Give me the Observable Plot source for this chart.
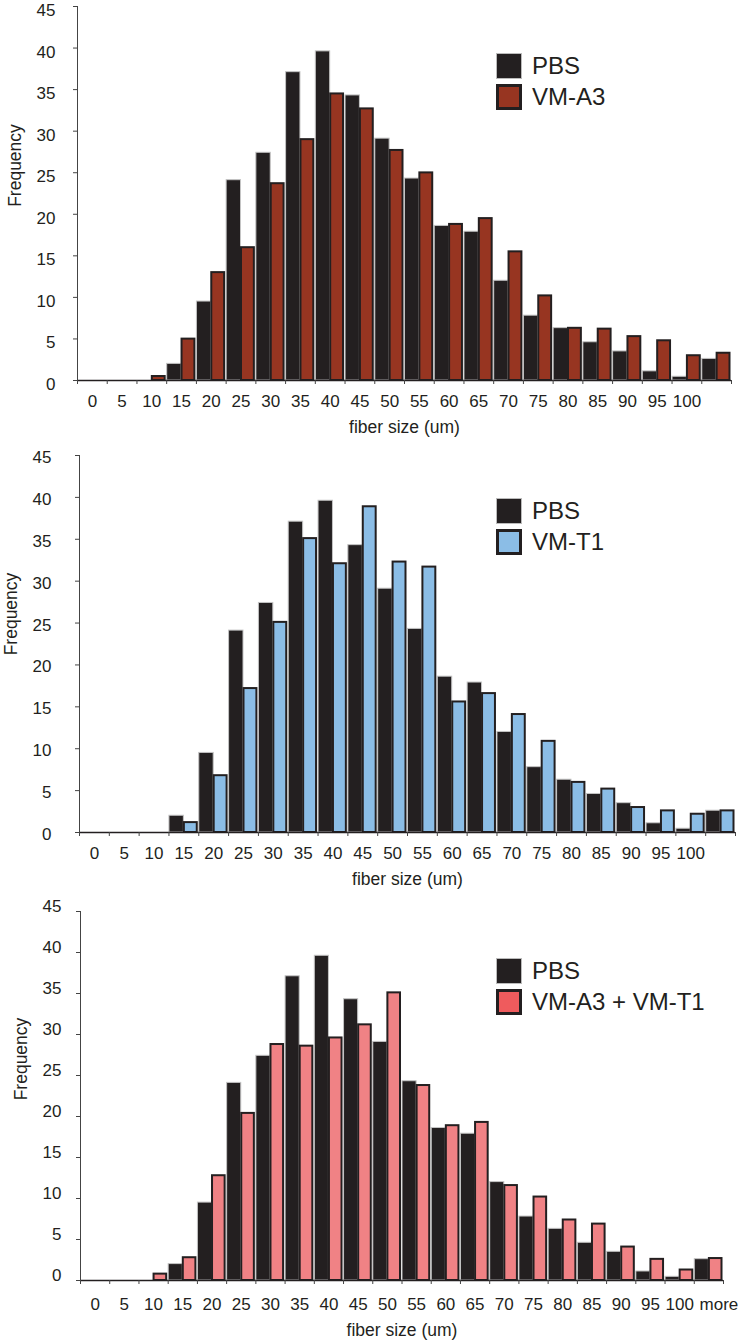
<!DOCTYPE html>
<html>
<head>
<meta charset="utf-8">
<script src="https://cdn.jsdelivr.net/npm/d3@7"></script>
<script src="https://cdn.jsdelivr.net/npm/@observablehq/plot@0.6"></script>
<style>
  html, body { margin: 0; padding: 0; background: #fff; }
  body { width: 741px; font-family: "Liberation Sans", Arial, Helvetica, sans-serif; color: #231f20; }
  .panel { position: relative; width: 741px; }
  .panel svg { display: block; }
  .legend { position: absolute; left: 496px; }
  .legend .row { display: flex; align-items: center; height: 26px; margin-bottom: 5px; }
  .legend .sw { width: 26px; height: 26px; box-sizing: border-box; margin-right: 10px; flex: none; }
  .legend .lbl { font-size: 24px; line-height: 26px; color: #231f20; white-space: nowrap; }
</style>
</head>
<body>
<div id="root"></div>
<script>
// ---- data ----
const categories = ["0","5","10","15","20","25","30","35","40","45","50","55","60","65","70","75","80","85","90","95","100","more"];
const tickLabelsTop = ["0","5","10","15","20","25","30","35","40","45","50","55","60","65","70","75","80","85","90","95","100",""];
const tickLabelsBottom = categories;
const yTicks = [0,5,10,15,20,25,30,35,40,45];

const pbs    = [0,0,0,2.0,9.5,24.1,27.4,37.1,39.6,34.3,29.1,24.3,18.6,17.9,12.0,7.8,6.3,4.6,3.5,1.1,0.45,2.6];
const vmA3   = [0,0,0.6,5.1,13.1,16.1,23.8,29.1,34.6,32.8,27.8,25.1,18.9,19.6,15.6,10.3,6.4,6.3,5.4,4.9,3.1,3.4];
const vmT1   = [0,0,0,1.3,6.9,17.3,25.2,35.2,32.2,39.0,32.4,31.8,15.7,16.7,14.2,11.0,6.1,5.3,3.1,2.7,2.3,2.7];
const vmA3T1 = [0,0,0.9,2.9,12.9,20.5,28.9,28.7,29.7,31.3,35.2,23.9,19.0,19.4,11.7,10.3,7.5,7.0,4.2,2.7,1.4,2.8];

const seriesNames = ["PBS", "VM-A3", "VM-T1", "VM-A3 + VM-T1"];
const xTitle = "fiber size (um)";
const yTitle = "Frequency";

// ---- styles / layout ----
const ink = "#231f20";
const panels = [
  {name: seriesNames[1], values: vmA3, fill: "#973521", swatch: "#973521", labels: tickLabelsTop,
   L: {height: 445, mL: 77, mR: 10, mT: 6, mB: 65, yPad: 18, yDy: 4, xPad: 14, lastDx: 0, titleDy: 47, fDx: -62, fDy: -28, legendTop: 53}},
  {name: seriesNames[2], values: vmT1, fill: "#8bbde6", swatch: "#8bbde6", labels: tickLabelsTop,
   L: {height: 445, mL: 79, mR: 6, mT: 10, mB: 58, yPad: 24, yDy: 2, xPad: 14, lastDx: 0, titleDy: 47, fDx: -68, fDy: -30, legendTop: 53}},
  {name: seriesNames[3], values: vmA3T1, fill: "#f08285", swatch: "#ef5b5d", labels: tickLabelsBottom,
   L: {height: 452, mL: 80, mR: 18, mT: 21, mB: 62, yPad: 15, yDy: -5, xPad: 17, lastDx: 10, titleDy: 50, fDx: -59, fDy: -37, legendTop: 68}}
];

const root = document.getElementById("root");
const n = categories.length;

for (const p of panels) {
  const L = p.L;
  const pbsRows = pbs.map((v, i) => ({i, v})).filter(d => d.v > 0);
  const trtRows = p.values.map((v, i) => ({i, v})).filter(d => d.v > 0);
  const lastLabel = [{i: n - 1, label: p.labels[n - 1]}].filter(d => d.label !== "");

  const chart = Plot.plot({
    width: 741,
    height: L.height,
    marginLeft: L.mL,
    marginRight: L.mR,
    marginTop: L.mT,
    marginBottom: L.mB,
    x: {type: "linear", domain: [0, n]},
    y: {domain: [0, 45]},
    style: {fontFamily: '"Liberation Sans", Arial, sans-serif', color: ink, background: "white", overflow: "visible"},
    marks: [
      Plot.rect(pbsRows, {x1: "i", x2: d => d.i + 0.5, y1: 0, y2: "v",
        fill: ink, stroke: "#c4c4c4", strokeWidth: 1, insetLeft: 0.5}),
      Plot.rect(trtRows, {x1: d => d.i + 0.5, x2: d => d.i + 1, y1: 0, y2: "v",
        fill: p.fill, stroke: ink, strokeWidth: 2, insetLeft: 0.5, insetRight: 1.5, insetTop: 1}),
      Plot.ruleY([0], {stroke: ink, strokeWidth: 1.3}),
      Plot.ruleX([0], {y1: 0, y2: 45, stroke: "#444", strokeWidth: 1}),
      // y tick marks
      Plot.axisY({ticks: yTicks, tickSize: 4, tickFormat: () => "", label: null, stroke: "#444"}),
      // y tick labels
      Plot.axisY({ticks: yTicks, tickSize: 0, tickPadding: 4 + L.yPad, dy: L.yDy, fontSize: 17, label: null, fill: ink}),
      // x band boundary ticks
      Plot.axisX({ticks: d3.range(0, n + 1), tickSize: 4, tickFormat: () => "", label: null, stroke: "#444"}),
      // x category labels
      Plot.axisX({ticks: d3.range(n - 1).map(i => i + 0.5), tickSize: 0, tickPadding: L.xPad,
        tickFormat: v => p.labels[Math.floor(v)], label: null, fontSize: 17, fill: ink}),
      Plot.text(lastLabel, {x: d => d.i + 0.5, text: "label", frameAnchor: "bottom", lineAnchor: "top",
        dy: L.xPad, dx: L.lastDx, fontSize: 17, fill: ink}),
      Plot.text([xTitle], {text: d => d, frameAnchor: "bottom", dy: L.titleDy, lineAnchor: "middle", textAnchor: "middle", fontSize: 17.5, fill: ink}),
      Plot.text([yTitle], {text: d => d, frameAnchor: "left", rotate: -90, dx: L.fDx, dy: L.fDy, lineAnchor: "middle", textAnchor: "middle", fontSize: 17.5, fill: ink})
    ]
  });

  const wrap = document.createElement("div");
  wrap.className = "panel";
  wrap.appendChild(chart);

  const legend = document.createElement("div");
  legend.className = "legend";
  legend.style.top = L.legendTop + "px";
  legend.innerHTML =
    `<div class="row"><div class="sw" style="background:${ink};border:1px solid #bbb"></div><div class="lbl">${seriesNames[0]}</div></div>` +
    `<div class="row"><div class="sw" style="background:${p.swatch};border:3px solid ${ink}"></div><div class="lbl">${p.name}</div></div>`;
  wrap.appendChild(legend);
  root.appendChild(wrap);
}
</script>
</body>
</html>
